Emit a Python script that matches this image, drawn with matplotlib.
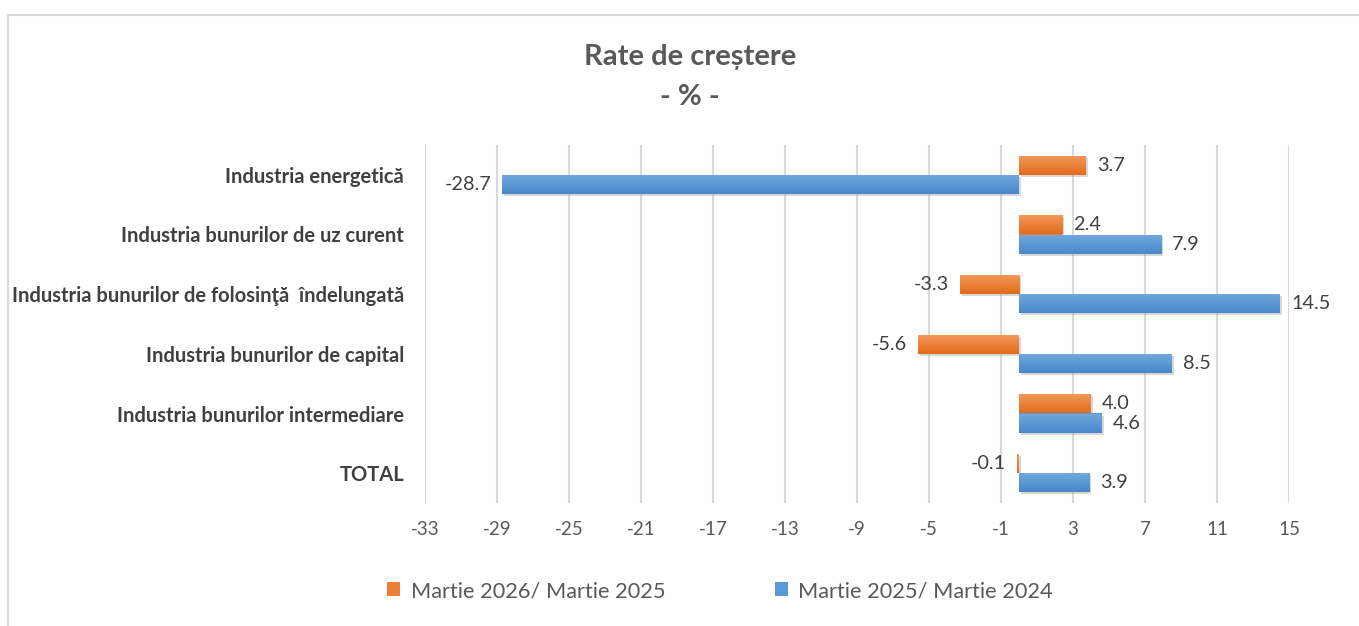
import numpy as np
import matplotlib
matplotlib.use('Agg')
import matplotlib.pyplot as plt
import matplotlib.patheffects as pe
from matplotlib.patches import Patch
from matplotlib.lines import Line2D
from matplotlib.colors import LinearSegmentedColormap

categories = ['Industria energetică',
              'Industria bunurilor de uz curent',
              'Industria bunurilor de folosinţă  îndelungată',
              'Industria bunurilor de capital',
              'Industria bunurilor intermediare',
              'TOTAL']
mar26 = [3.7, 2.4, -3.3, -5.6, 4.0, -0.1]
mar25 = [-28.7, 7.9, 14.5, 8.5, 4.6, 3.9]
series_names = ['Martie 2026/ Martie 2025', 'Martie 2025/ Martie 2024']
xticks = list(range(-33, 16, 4))

plt.rcParams['font.family'] = ['Lato', 'DejaVu Sans']
plt.rcParams['axes.unicode_minus'] = False
W, H = 1359, 626
fig = plt.figure(figsize=(W / 100, H / 100), dpi=100)
ax = fig.add_axes([425 / W, 1 - 503 / H, (1289 - 425) / W, (503 - 145) / H])

orange = '#ED7D31'
blue = '#5B9BD5'
text_col = '#595959'
grads = {orange: LinearSegmentedColormap.from_list('o', ['#E36C1A', '#F39A5C']),
         blue: LinearSegmentedColormap.from_list('b', ['#4888CA', '#70A9DE'])}

n = len(categories)
y = np.arange(n)[::-1]
h = 0.32
shadow = [pe.SimplePatchShadow(offset=(1.5, -1.5), shadow_rgbFace='#808080', alpha=0.3), pe.Normal()]

b1 = ax.barh(y + h / 2, mar26, height=h, color=orange, zorder=3)
b2 = ax.barh(y - h / 2, mar25, height=h, color=blue, zorder=3)
grad = np.linspace(0, 1, 64).reshape(-1, 1)
for bars, col in ((b1, orange), (b2, blue)):
    for p in bars:
        p.set_path_effects(shadow)
        x0, x1 = sorted((p.get_x(), p.get_x() + p.get_width()))
        y0, y1 = p.get_y(), p.get_y() + p.get_height()
        im = ax.imshow(grad, extent=[x0, x1, y0, y1], origin='lower', aspect='auto',
                       cmap=grads[col], zorder=3.5)
        im.set_clip_path(p)

for bars, vals in ((b1, mar26), (b2, mar25)):
    for p, v in zip(bars, vals):
        yc = p.get_y() + p.get_height() / 2
        off = 8 if v >= 0 else -8
        ax.annotate(f'{v:.1f}', (v, yc), xytext=(off, 0), textcoords='offset points',
                    ha='left' if v >= 0 else 'right', va='center',
                    fontsize=14.3, color='#404040')

ax.set_xlim(-33, 15)
ax.set_ylim(-0.5, n - 0.5)
ax.set_xticks(xticks)
ax.set_yticks(y)
ax.set_yticklabels(categories, fontweight='bold', fontsize=14.5, color='#404040')
ax.tick_params(axis='x', length=0, pad=13, labelsize=13.5, labelcolor=text_col)
ax.tick_params(axis='y', length=0, pad=15)
ax.grid(axis='x', color='#D9D9D9', linewidth=1.5, zorder=0)
ax.set_axisbelow(True)
for s in ax.spines.values():
    s.set_visible(False)

fig.text(690 / W, 1 - 57 / H, 'Rate de creștere', ha='center', va='center',
         fontsize=21, fontweight='bold', color=text_col)
fig.text(690 / W, 1 - 97 / H, '- % -', ha='center', va='center',
         fontsize=21, fontweight='bold', color=text_col)

handles = [Patch(facecolor=orange), Patch(facecolor=blue)]
fig.legend(handles, series_names, loc='center', bbox_to_anchor=(720 / W, 1 - 591 / H),
           ncol=2, frameon=False, fontsize=15.7, handlelength=0.6, handleheight=0.6,
           handletextpad=0.5, columnspacing=5, labelcolor=text_col)

fig.add_artist(Line2D([8 / W, 1], [1 - 15 / H, 1 - 15 / H], color='#D9D9D9', lw=1.5))
fig.add_artist(Line2D([8 / W, 8 / W], [0, 1 - 15 / H], color='#D9D9D9', lw=1.5))

fig.savefig('out.png', dpi=100)
